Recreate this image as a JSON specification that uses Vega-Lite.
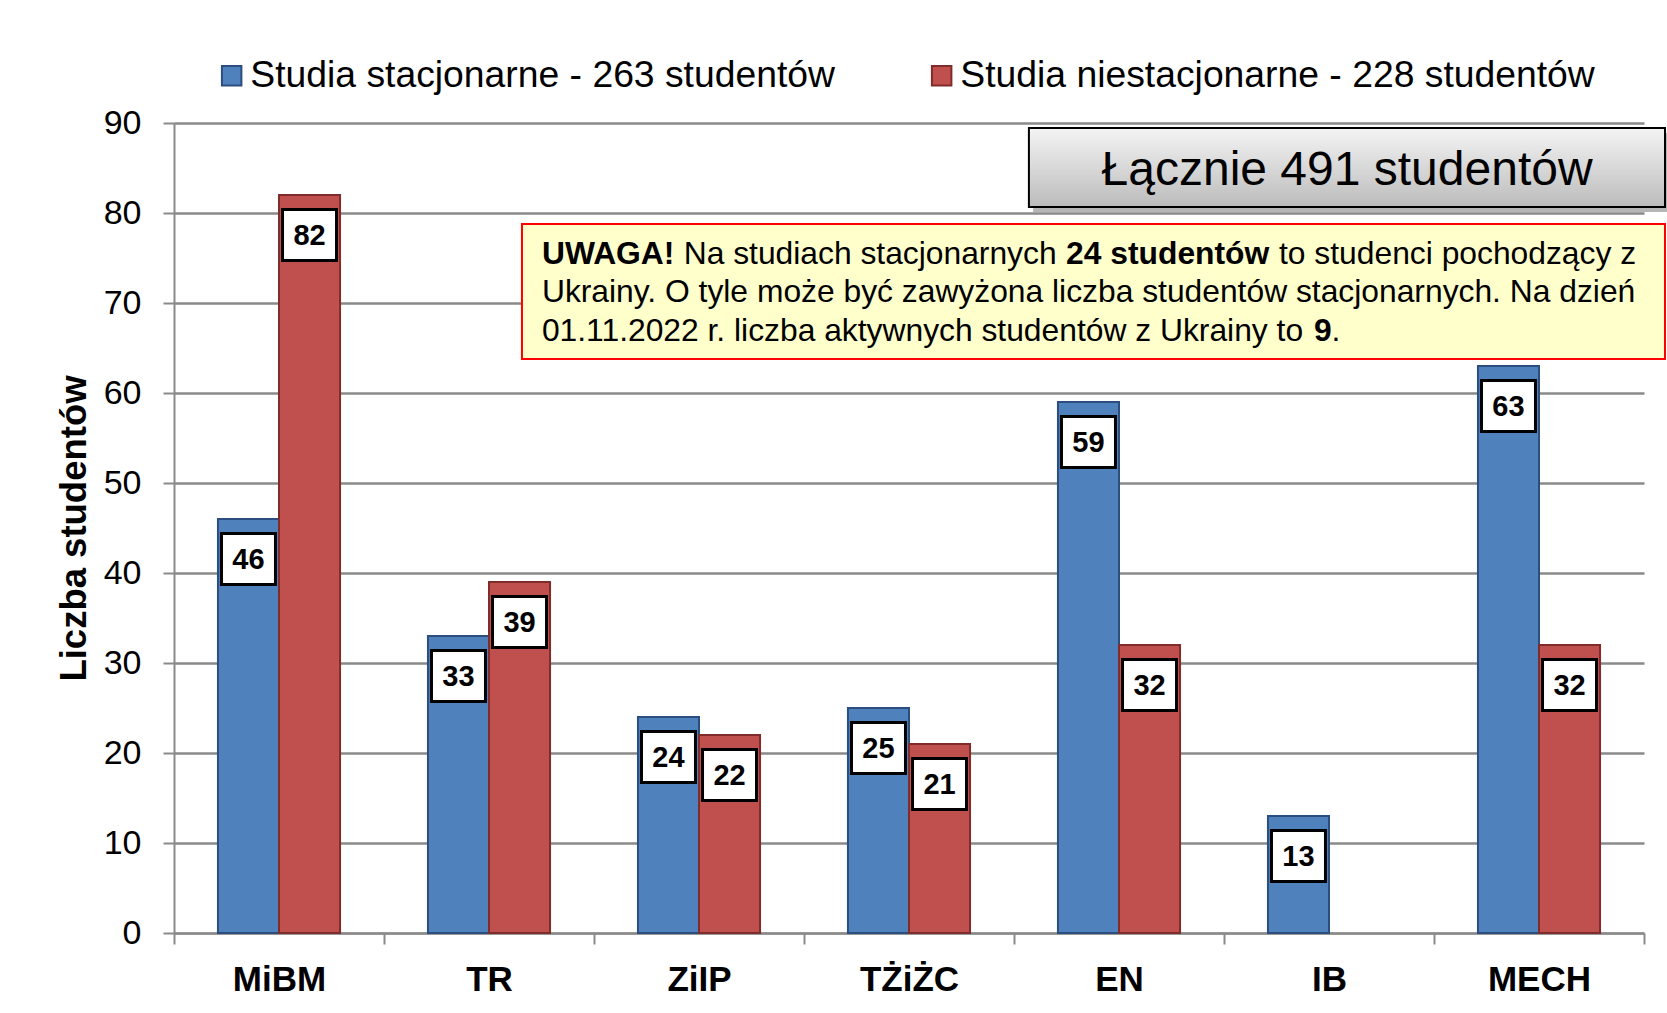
{
  "$schema": "https://vega.github.io/schema/vega-lite/v6.json",
  "width": 1470,
  "height": 810,
  "autosize": {"type": "none"},
  "padding": {"left": 174, "top": 123, "right": 23, "bottom": 80},
  "background": "white",
  "config": {
    "font": "Liberation Sans",
    "view": {"stroke": null}
  },
  "layer": [
    {
      "data": {
        "values": [
          {"kierunek": "MiBM", "rodzaj": "Studia stacjonarne - 263 studentów", "liczba": 46},
          {"kierunek": "MiBM", "rodzaj": "Studia niestacjonarne - 228 studentów", "liczba": 82},
          {"kierunek": "TR", "rodzaj": "Studia stacjonarne - 263 studentów", "liczba": 33},
          {"kierunek": "TR", "rodzaj": "Studia niestacjonarne - 228 studentów", "liczba": 39},
          {"kierunek": "ZiIP", "rodzaj": "Studia stacjonarne - 263 studentów", "liczba": 24},
          {"kierunek": "ZiIP", "rodzaj": "Studia niestacjonarne - 228 studentów", "liczba": 22},
          {"kierunek": "TŻiŻC", "rodzaj": "Studia stacjonarne - 263 studentów", "liczba": 25},
          {"kierunek": "TŻiŻC", "rodzaj": "Studia niestacjonarne - 228 studentów", "liczba": 21},
          {"kierunek": "EN", "rodzaj": "Studia stacjonarne - 263 studentów", "liczba": 59},
          {"kierunek": "EN", "rodzaj": "Studia niestacjonarne - 228 studentów", "liczba": 32},
          {"kierunek": "IB", "rodzaj": "Studia stacjonarne - 263 studentów", "liczba": 13},
          {"kierunek": "MECH", "rodzaj": "Studia stacjonarne - 263 studentów", "liczba": 63},
          {"kierunek": "MECH", "rodzaj": "Studia niestacjonarne - 228 studentów", "liczba": 32}
        ]
      },
      "encoding": {
        "x": {
          "field": "kierunek",
          "type": "nominal",
          "sort": ["MiBM", "TR", "ZiIP", "TŻiŻC", "EN", "IB", "MECH"],
          "scale": {"paddingInner": 0, "paddingOuter": 0},
          "axis": {
            "title": null,
            "labelAngle": 0,
            "labelFontSize": 35,
            "labelFontWeight": "bold",
            "labelColor": "#000000",
            "labelPadding": 18,
            "labelBaseline": "top",
            "tickBand": "extent",
            "tickSize": 11,
            "tickWidth": 2,
            "tickColor": "#8a8a8a",
            "domainColor": "#8a8a8a",
            "domainWidth": 2,
            "grid": false
          }
        },
        "xOffset": {
          "field": "rodzaj",
          "type": "nominal",
          "sort": ["Studia stacjonarne - 263 studentów", "Studia niestacjonarne - 228 studentów"],
          "scale": {"paddingInner": 0, "paddingOuter": 0.72}
        },
        "y": {
          "field": "liczba",
          "type": "quantitative",
          "scale": {"domain": [0, 90], "nice": false},
          "axis": {
            "title": "Liczba studentów",
            "titleFontSize": 36.5,
            "titleFontWeight": "bold",
            "titleColor": "#000000",
            "titlePadding": 10,
            "values": [0, 10, 20, 30, 40, 50, 60, 70, 80, 90],
            "labelFontSize": 34,
            "labelColor": "#000000",
            "labelPadding": 22,
            "tickSize": 11,
            "tickWidth": 2,
            "tickColor": "#8a8a8a",
            "domainColor": "#8a8a8a",
            "domainWidth": 2,
            "grid": true,
            "gridColor": "#8a8a8a",
            "gridWidth": 2.5
          }
        }
      },
      "layer": [
        {
          "mark": {"type": "bar", "strokeWidth": 2},
          "encoding": {
            "color": {
              "field": "rodzaj",
              "type": "nominal",
              "sort": ["Studia stacjonarne - 263 studentów", "Studia niestacjonarne - 228 studentów"],
              "scale": {"range": ["#4f81bd", "#c0504d"]},
              "legend": {
                "orient": "none",
                "legendX": 39,
                "legendY": -66,
                "direction": "horizontal",
                "title": null,
                "padding": 0,
                "labelFontSize": 37.3,
                "labelLimit": 0,
                "labelColor": "#000000",
                "labelOffset": 0,
                "columnPadding": 88,
                "symbolType": "square",
                "symbolSize": 380,
                "symbolStrokeWidth": 2,
                "symbolOpacity": 1,
                "encode": {
                  "symbols": {
                    "update": {
                      "stroke": {"scale": "stroke", "field": "value"},
                      "strokeWidth": {"value": 2}
                    }
                  }
                }
              }
            },
            "stroke": {
              "field": "rodzaj",
              "type": "nominal",
              "sort": ["Studia stacjonarne - 263 studentów", "Studia niestacjonarne - 228 studentów"],
              "scale": {"range": ["#2c4e7e", "#7f2c2a"]},
              "legend": null
            }
          }
        },
        {
          "mark": {
            "type": "point",
            "shape": "M-1,-0.944H1V0.944H-1Z",
            "size": 2916,
            "filled": true,
            "fill": "#ffffff",
            "stroke": "#000000",
            "strokeWidth": 3,
            "opacity": 1,
            "yOffset": 40
          },
          "encoding": {}
        },
        {
          "mark": {
            "type": "text",
            "fontSize": 29,
            "fontWeight": "bold",
            "color": "#000000",
            "baseline": "middle",
            "align": "center",
            "yOffset": 41
          },
          "encoding": {"text": {"field": "liczba", "type": "quantitative"}}
        }
      ]
    },
    {
      "layer": [
        {
          "data": {"values": [{"x1": 4.091, "x2": 7.12, "y1": 88.9, "y2": 80.1}]},
          "mark": {"type": "rect", "fill": "#7a7a7a", "opacity": 0.55},
          "encoding": {
            "x": {"field": "x1", "type": "quantitative", "scale": {"domain": [0, 7], "nice": false}, "axis": null},
            "x2": {"field": "x2"},
            "y": {"field": "y1", "type": "quantitative"},
            "y2": {"field": "y2"}
          }
        },
        {
          "data": {"values": [{"x1": 4.071, "x2": 7.1, "y1": 89.44, "y2": 80.67}]},
          "mark": {
            "type": "rect",
            "fill": {
              "gradient": "linear",
              "x1": 0, "y1": 0, "x2": 0, "y2": 1,
              "stops": [
                {"offset": 0, "color": "#f4f4f4"},
                {"offset": 1, "color": "#bcbcbc"}
              ]
            },
            "stroke": "#000000",
            "strokeWidth": 2
          },
          "encoding": {
            "x": {"field": "x1", "type": "quantitative", "scale": {"domain": [0, 7], "nice": false}, "axis": null},
            "x2": {"field": "x2"},
            "y": {"field": "y1", "type": "quantitative"},
            "y2": {"field": "y2"}
          }
        },
        {
          "data": {"values": [{"x": 5.586, "y": 84.65, "t": "Łącznie 491 studentów"}]},
          "mark": {"type": "text", "fontSize": 48, "align": "center", "baseline": "middle", "color": "#000000"},
          "encoding": {
            "x": {"field": "x", "type": "quantitative", "scale": {"domain": [0, 7], "nice": false}, "axis": null},
            "y": {"field": "y", "type": "quantitative"},
            "text": {"field": "t"}
          }
        },
        {
          "data": {"values": [{"x1": 1.657, "x2": 7.1, "y1": 78.78, "y2": 63.78}]},
          "mark": {"type": "rect", "fill": "#ffffcc", "stroke": "#ff0000", "strokeWidth": 2},
          "encoding": {
            "x": {"field": "x1", "type": "quantitative", "scale": {"domain": [0, 7], "nice": false}, "axis": null},
            "x2": {"field": "x2"},
            "y": {"field": "y1", "type": "quantitative"},
            "y2": {"field": "y2"}
          }
        },
        {
          "data": {
            "values": [
              {"x": 2.427, "y": 75.4, "t": "Na studiach stacjonarnych"},
              {"x": 5.262, "y": 75.4, "t": "to studenci pochodzący z"},
              {"x": 1.752, "y": 71.2, "t": "Ukrainy. O tyle może być zawyżona liczba studentów stacjonarnych. Na dzień"},
              {"x": 1.752, "y": 66.9, "t": "01.11.2022 r. liczba aktywnych studentów z Ukrainy to"},
              {"x": 5.512, "y": 66.9, "t": "."}
            ]
          },
          "mark": {"type": "text", "fontSize": 31.8, "align": "left", "baseline": "middle", "color": "#000000"},
          "encoding": {
            "x": {"field": "x", "type": "quantitative", "scale": {"domain": [0, 7], "nice": false}, "axis": null},
            "y": {"field": "y", "type": "quantitative"},
            "text": {"field": "t"}
          }
        },
        {
          "data": {
            "values": [
              {"x": 1.752, "y": 75.4, "t": "UWAGA!"},
              {"x": 4.248, "y": 75.4, "t": "24 studentów"},
              {"x": 5.429, "y": 66.9, "t": "9"}
            ]
          },
          "mark": {"type": "text", "fontSize": 31.8, "fontWeight": "bold", "align": "left", "baseline": "middle", "color": "#000000"},
          "encoding": {
            "x": {"field": "x", "type": "quantitative", "scale": {"domain": [0, 7], "nice": false}, "axis": null},
            "y": {"field": "y", "type": "quantitative"},
            "text": {"field": "t"}
          }
        }
      ]
    }
  ],
  "resolve": {"scale": {"x": "independent"}}
}
